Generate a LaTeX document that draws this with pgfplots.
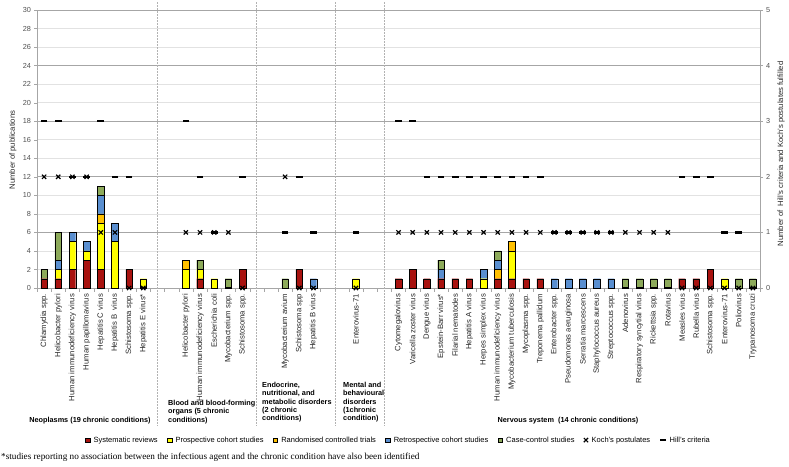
\documentclass[border=0pt]{standalone}
\usepackage{pgfplots}
\pgfplotsset{compat=1.18}
\usepackage{pgfplotstable}
\usepackage{fontspec}
\setmainfont{Liberation Sans}
\newfontfamily\timesfont{Liberation Serif}
\definecolor{cSR}{HTML}{A8120F}
\definecolor{cPC}{HTML}{FFFF00}
\definecolor{cRCT}{HTML}{FFC000}
\definecolor{cRC}{HTML}{5A8FD0}
\definecolor{cCC}{HTML}{8DAA5A}
\definecolor{gridlight}{HTML}{E2E2E2}
\definecolor{griddark}{HTML}{A6A6A6}
\definecolor{ticktext}{HTML}{505050}

\pgfplotstableread{
x SR PC RCT RC CC
0 1 0 0 0 1
1 1 1 0 1 3
2 2 3 0 1 0
3 3 1 0 1 0
4 2 5 1 2 1
5 0 5 0 2 0
6 2 0 0 0 0
7 0 1 0 0 0
10 0 2 1 0 0
11 1 1 0 0 1
12 0 1 0 0 0
13 0 0 0 0 1
14 2 0 0 0 0
17 0 0 0 0 1
18 2 0 0 0 0
19 0 0 0 1 0
22 0 1 0 0 0
25 1 0 0 0 0
26 2 0 0 0 0
27 1 0 0 0 0
28 1 0 0 1 1
29 1 0 0 0 0
30 1 0 0 0 0
31 0 1 0 1 0
32 1 0 1 1 1
33 1 3 1 0 0
34 1 0 0 0 0
35 1 0 0 0 0
36 0 0 0 1 0
37 0 0 0 1 0
38 0 0 0 1 0
39 0 0 0 1 0
40 0 0 0 1 0
41 0 0 0 0 1
42 0 0 0 0 1
43 0 0 0 0 1
44 0 0 0 0 1
45 1 0 0 0 0
46 1 0 0 0 0
47 2 0 0 0 0
48 0 1 0 0 0
49 0 0 0 0 1
50 0 0 0 0 1
}\pubs

\pgfplotstableread{
x K H
0 2 3
1 2 3
2 2 2
3 2 2
4 1 3
5 1 2
6 0 2
7 0 0
10 1 3
11 1 2
12 1 1
13 1 0
14 0 2
17 2 1
18 0 2
19 0 1
22 0 1
25 1 3
26 1 3
27 1 2
28 1 2
29 1 2
30 1 2
31 1 2
32 1 2
33 1 2
34 1 2
35 1 2
36 1 1
37 1 1
38 1 1
39 1 1
40 1 1
41 1 0
42 1 0
43 1 0
44 1 0
45 0 2
46 0 2
47 0 2
48 0 1
49 0 1
50 0 0
}\kh

\pgfplotsset{
  sqlegend/.style={legend image code/.code={\draw[##1,draw=black,line width=0.4pt] (0pt,-2.3pt) rectangle (4.6pt,2.3pt);}},
  mklegend/.style={legend image code/.code={\draw[##1] plot coordinates {(2.5pt,0pt)};}},
  common/.style={at={(37pt,178pt)}, anchor=south west, scale only axis,
    width=723pt, height=278pt, xmin=-0.5, xmax=50.5, enlargelimits=false,
    /pgf/number format/assume math mode=true},
}
\newcommand{\sm}{\fontsize{7.3}{8.3}\selectfont}
\newcommand{\lab}{\fontsize{7.7}{9}\selectfont}

\begin{document}
\begin{tikzpicture}[x=1pt,y=1pt]
\path[use as bounding box] (0,0) rectangle (789,466);
\begin{axis}[common,
  ymin=0, ymax=30, clip=false,
  ybar stacked, bar width=6.6pt,
  axis x line*=bottom, axis y line*=left,
  axis line style={griddark,-,line width=0.6pt},
  ytick={0,2,...,30},
  ymajorgrids, major grid style={gridlight,line width=0.7pt},
  extra y ticks={6,12,18,24,30}, extra y tick labels={},
  extra y tick style={grid=major, major grid style={griddark,line width=0.8pt}},
  tick align=outside, major tick length=2.5pt,
  major y tick style={griddark},
  major x tick style={draw=none},
  minor xtick={-0.5,0.5,...,50.5}, minor tick length=3.5pt,
  minor x tick style={griddark},
  yticklabel style={font=\sm, text=ticktext},
  xtick={0,1,2,3,4,5,6,7,10,11,12,13,14,17,18,19,22,25,26,27,28,29,30,31,32,33,34,35,36,37,38,39,40,41,42,43,44,45,46,47,48,49,50},
  xticklabels={Chlamydia spp.,Helicobacter pylori,Human immunodeficiency virus,Human papillomavirus,Hepatitis C virus,Hepatitis B\ \ virus,Schistosoma spp.,Hepatitis E virus*,
    Helicobacter pylori,Human immunodeficiency virus,Escherichia coli,Mycobacterium spp.,Schistosoma spp.,
    Mycobacterium avium,Schistosoma spp,Hepatitis B virus,
    Enterovirus-71,
    Cytomegalovirus,Varicella zoster virus,Dengue virus,Epstein-Barr virus*,Filarial nematodes,Hepatitis A virus,Herpes simplex virus,Human immunodeficiency virus,Mycobacterium tuberculosis,Mycoplasma spp.,Treponema pallidum,Enterobacter spp.,Pseudomonas aeruginosa,Serratia marcescens,Staphylococcus aureus,Streptococcus spp.,Adenovirus,Respiratory syncytial virus,Rickettsia spp.,Rotavirus,Measles virus,Rubella virus,Schistosoma spp.,Enterovirus-71,Poliovirus,Trypanosoma cruzi},
  xticklabel style={rotate=90, anchor=east, font=\lab, text=black!85},
]
\addplot[fill=cSR,draw=black,line width=0.4pt] table[x=x,y=SR] \pubs;
\addplot[fill=cPC,draw=black,line width=0.4pt] table[x=x,y=PC] \pubs;
\addplot[fill=cRCT,draw=black,line width=0.4pt] table[x=x,y=RCT] \pubs;
\addplot[fill=cRC,draw=black,line width=0.4pt] table[x=x,y=RC] \pubs;
\addplot[fill=cCC,draw=black,line width=0.4pt] table[x=x,y=CC] \pubs;
\foreach \s in {8,15,20.57,24}{
  \edef\tmp{\noexpand\draw[gray!60, line width=0.5pt, dash pattern=on 1.5pt off 1.5pt] (axis cs:\s,30.85) -- (axis cs:\s,-14.8);}
  \tmp
}
\end{axis}
\begin{axis}[common,
  ymin=0, ymax=5, clip=false,
  axis x line=none, axis y line*=right,
  axis line style={griddark,-,line width=0.6pt},
  ytick={0,...,5}, tick align=outside, major tick length=2.5pt,
  major y tick style={griddark},
  yticklabel style={font=\sm, text=ticktext},
  legend columns=-1,
  legend style={at={(0.5,-0.547)}, anchor=center, draw=none, fill=none,
    font=\fontsize{7.5}{9}\selectfont, inner sep=0pt,
    /tikz/every even column/.append style={column sep=7.3pt},
    /tikz/every odd column/.append style={column sep=1.5pt}},
]
\addlegendimage{fill=cSR,sqlegend}
\addlegendentry{Systematic reviews}
\addlegendimage{fill=cPC,sqlegend}
\addlegendentry{Prospective cohort studies}
\addlegendimage{fill=cRCT,sqlegend}
\addlegendentry{Randomised controlled trials}
\addlegendimage{fill=cRC,sqlegend}
\addlegendentry{Retrospective cohort studies}
\addlegendimage{fill=cCC,sqlegend}
\addlegendentry{Case-control studies}
\addplot[only marks, mark=x, mark size=3pt, line width=1.2pt, black, mklegend] table[x=x,y=K] \kh;
\addlegendentry{Koch's postulates}
\addplot[only marks, mark=-, mark size=3.3pt, line width=2.2pt, black, mklegend] table[x=x,y=H] \kh;
\addlegendentry{Hill's criteria}
\end{axis}
\node[rotate=90, font=\lab, text=black!85] at (13,316) {Number of publications};
\node[rotate=90, font=\lab, text=black!85] at (781,312) {Number of\ \ Hill's criteria and Koch's postulates fulfilled};
\node[font=\sm\bfseries, anchor=center] at (90,45) {Neoplasms (19 chronic conditions)};
\node[font=\sm\bfseries, anchor=north west, align=left, inner sep=0pt] at (168,66) {Blood and blood-forming\\organs (5 chronic\\conditions)};
\node[font=\sm\bfseries, anchor=north west, align=left, inner sep=0pt] at (262,84) {Endocrine,\\nutritional, and\\metabolic disorders\\(2 chronic\\conditions)};
\node[font=\sm\bfseries, anchor=north west, align=left, inner sep=0pt] at (343,84) {Mental and\\behavioural\\disorders\\(1chronic\\condition)};
\node[font=\sm\bfseries, anchor=center] at (568,45) {Nervous system\ \ (14 chronic conditions)};
\node[font=\timesfont\fontsize{9.2}{11}\selectfont, anchor=west, inner sep=0pt] at (1,9) {*studies reporting no association between the infectious agent and the chronic condition have also been identified};
\end{tikzpicture}
\end{document}
